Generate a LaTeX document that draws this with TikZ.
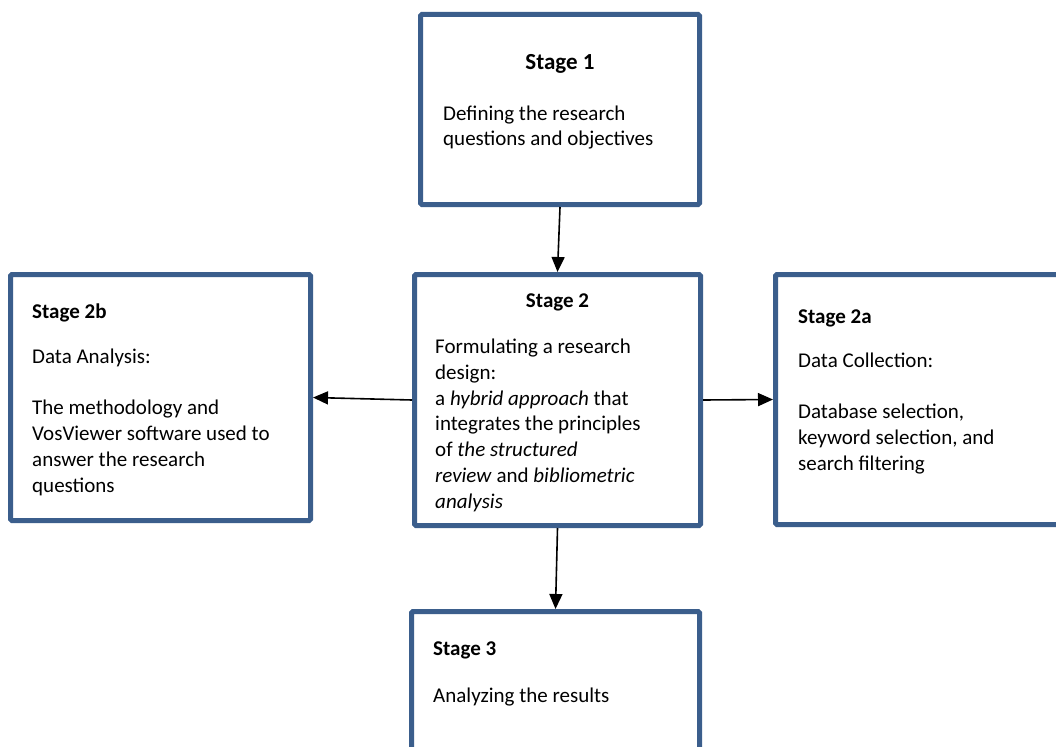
\documentclass[tikz,border=0pt]{standalone}
\usepackage{fontspec}
\setmainfont{Carlito}
\usetikzlibrary{arrows.meta}
\definecolor{stageblue}{HTML}{3B5E8C}

\begin{document}
\begin{tikzpicture}[x=1pt,y=-1pt,
    stage/.style={draw=stageblue,line width=5pt,rounded corners=1.5pt,fill=white,inner sep=0pt},
    head/.style={font=\fontsize{21}{25.7}\selectfont\bfseries,inner sep=0pt},
    body/.style={font=\fontsize{21}{25.7}\selectfont,align=left,inner sep=0pt,anchor=base west}]
  \clip (0,0) rectangle (1056,746);
  % boxes
  \node[stage,minimum width=279pt,minimum height=190pt] (s1) at (560,109.5) {};
  \node[stage,minimum width=286pt,minimum height=251pt] (s2) at (557.5,400) {};
  \node[stage,minimum width=300pt,minimum height=246pt] (s2b) at (160.5,397.5) {};
  \node[stage,minimum width=285pt,minimum height=250pt] (s2a) at (918,399.5) {};
  \node[stage,minimum width=288pt,minimum height=186pt] (s3) at (555.5,704.5) {};
  % texts (base = last line)
  \node[head,anchor=base,font=\fontsize{23}{28}\selectfont\bfseries] (h1) at ([shift={(0,58)}]s1.north) {Stage 1};
  \node[body] (b1) at ([shift={(25,134)}]s1.north west)
    {Defining the research\\questions and objectives};
  \node[head,anchor=base] (h2) at ([shift={(0,35)}]s2.north) {Stage 2};
  \node[body] (b2) at ([shift={(23,236)}]s2.north west)
    {Formulating a research\\design:\\a \textit{hybrid approach} that\\integrates the principles\\of \textit{the structured}\\\textit{review} and \textit{bibliometric}\\\textit{analysis}};
  \node[head,anchor=base west] (h2b) at ([shift={(24,46)}]s2b.north west) {Stage 2b};
  \node[body] (b2b) at ([shift={(24,220)}]s2b.north west)
    {Data Analysis:\\[25.7pt]The methodology and\\VosViewer software used to\\answer the research\\questions};
  \node[head,anchor=base west] (h2a) at ([shift={(25,51)}]s2a.north west) {Stage 2a};
  \node[body] (b2a) at ([shift={(25,198)}]s2a.north west)
    {Data Collection:\\[25.7pt]Database selection,\\keyword selection, and\\search filtering};
  \node[head,anchor=base west] (h3) at ([shift={(24,46)}]s3.north west) {Stage 3};
  \node[body] (b3) at ([shift={(24,93)}]s3.north west) {Analyzing the results};
  % arrows
  \begin{scope}[-{Triangle[length=15pt,width=13pt]},line width=1.6pt]
    \draw (s1.south) -- (s2.north);
    \draw (s2.west) -- (s2b.east);
    \draw (s2.east) -- (s2a.west);
    \draw (s2.south) -- (s3.north);
  \end{scope}
\end{tikzpicture}
\end{document}
